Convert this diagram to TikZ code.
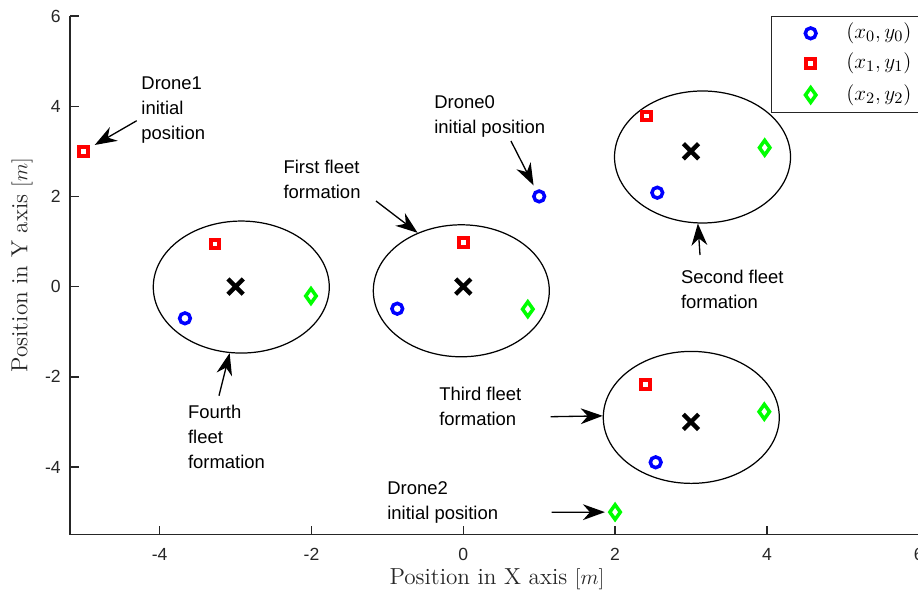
\documentclass[tikz,border=0pt]{standalone}
\usepackage{fontspec}
\setsansfont{Liberation Sans}
\usetikzlibrary{arrows.meta,shapes.geometric,shapes.misc}
\definecolor{axgray}{RGB}{38,38,38}

\begin{document}
\begin{tikzpicture}[x=1.518cm,y=0.902cm]
  \tikzset{ dot/.style={circle,draw=blue,line width=2pt,inner sep=0pt,minimum size=6.1pt,outer sep=2pt},
    sq/.style={rectangle,draw=red,line width=2.2pt,inner sep=0pt,minimum size=5pt,outer sep=2pt},
    dia/.style={diamond,draw=green,line width=2pt,inner sep=0pt,minimum width=7.6pt,minimum height=10pt,outer sep=2pt},
    ctr/.style={cross out,draw=black,line width=2.5pt,inner sep=0pt,minimum size=6.2pt},
    fleet/.style={ellipse,draw,line width=0.7pt,inner sep=0pt,minimum width=3.52cm,minimum height=2.64cm},
    note/.style={font=\sffamily\fontsize{10.5}{14.2}\selectfont,align=left,anchor=north west,inner sep=0pt},
    ticklbl/.style={font=\sffamily\fontsize{10}{12}\selectfont,text=axgray,inner sep=0pt},
    lbl/.style={font=\fontsize{13.2}{16}\selectfont,text=axgray,inner sep=0pt},
    legtxt/.style={font=\fontsize{12.5}{15}\selectfont,anchor=west,inner sep=0pt},
    ann/.style={line width=0.75pt,-{Stealth[length=12.5pt,width=9pt,inset=4pt]}},
  }
  \useasboundingbox (-6.104,-6.816) rectangle (5.991,6.355);

  % axes
  \draw[axgray,line width=0.8pt] (-5.18,6) -- (-5.18,-5.5) -- (6,-5.5);
  \foreach \x in {-4,-2,0,2,4,6} {
    \draw[axgray,line width=0.8pt] (\x,-5.5) -- ++(0,0.2);
    \node (xt\x) at (\x,-5.93) [ticklbl] {\x};
  }
  \foreach \y in {-4,-2,0,2,4,6} {
    \draw[axgray,line width=0.8pt] (-5.18,\y) -- ++(0.119,0);
    \node (yt\y) at (-5.30,\y) [ticklbl,anchor=east] {\y};
  }
  \node (xlab) at (0.444,-6.48) [lbl] {Position in X axis $[m]$};
  \node (ylab) at (-5.814,0.479) [lbl,rotate=90] {Position in Y axis $[m]$};

  % fleets
  \node (f1) at (-0.026,-0.093) [fleet] {};
  \node (f2) at (3.152,2.874) [fleet] {};
  \node (f3) at (3.004,-2.9) [fleet] {};
  \node (f4) at (-2.925,-0.01) [fleet] {};

  \node (c1) at (0,0) [ctr] {};
  \node (c2) at (3,3) [ctr] {};
  \node (c3) at (3,-3) [ctr] {};
  \node (c4) at (-3,0) [ctr] {};

  \node (b1) at (-0.87,-0.49) [dot] {};
  \node (r1) at (0,0.98) [sq] {};
  \node (g1) at (0.85,-0.5) [dia] {};
  \node (b2) at (2.556,2.082) [dot] {};
  \node (r2) at (2.416,3.783) [sq] {};
  \node (g2) at (3.971,3.08) [dia] {};
  \node (b3) at (2.535,-3.896) [dot] {};
  \node (r3) at (2.398,-2.166) [sq] {};
  \node (g3) at (3.966,-2.774) [dia] {};
  \node (b4) at (-3.667,-0.703) [dot] {};
  \node (r4) at (-3.271,0.945) [sq] {};
  \node (g4) at (-2.007,-0.208) [dia] {};

  % initial positions
  \node (d0) at (1,2) [dot] {};
  \node (d1) at (-5,3) [sq] {};
  \node (d2) at (2,-5) [dia] {};

  % annotations
  \node (n1) at (-4.245,4.659) [note] {Drone1\\initial\\position};
  \node (n0) at (-0.386,4.248) [note] {Drone0\\initial position};
  \node (nf1) at (-2.372,2.820) [note] {First fleet\\formation};
  \node (nf2) at (2.864,0.381) [note] {Second fleet\\formation};
  \node (nf3) at (-0.320,-2.213) [note] {Third fleet\\formation};
  \node (nf4) at (-3.631,-2.627) [note] {Fourth\\fleet\\formation};
  \node (n2) at (-1.005,-4.319) [note] {Drone2\\initial position};

  \coordinate (a1) at (-4.303,3.678);
  \coordinate (a0) at (0.628,3.228);
  \coordinate (a2) at (1.165,-5.004);
  \coordinate (af1) at (-1.150,1.898);
  \coordinate (af2) at (3.119,0.701);
  \coordinate (af3) at (1.152,-2.885);
  \coordinate (af4) at (-3.219,-2.419);

  \draw[ann,shorten >=2pt] (a1) -- (d1);
  \draw[ann,shorten >=2pt] (a0) -- (d0);
  \draw[ann] (a2) -- (d2);
  \draw[ann] (af1) -- (f1.127);
  \draw[ann] (af2) -- (f2.266);
  \draw[ann] (af3) -- (f3.179);
  \draw[ann] (af4) -- (f4.260);

  % legend
  \node (leg) at (4.054,6.0) [draw=axgray,fill=white,line width=0.6pt,anchor=north west,minimum width=3cm,minimum height=1.926cm] {};
  \node (l0) at (4.577,5.616) [dot] {};
  \node (l1) at (4.577,4.951) [sq] {};
  \node (l2) at (4.577,4.248) [dia] {};
  \node (lt0) at (5.042,5.616) [legtxt] {$(x_0,y_0)$};
  \node (lt1) at (5.042,4.951) [legtxt] {$(x_1,y_1)$};
  \node (lt2) at (5.042,4.248) [legtxt] {$(x_2,y_2)$};
\end{tikzpicture}
\end{document}
